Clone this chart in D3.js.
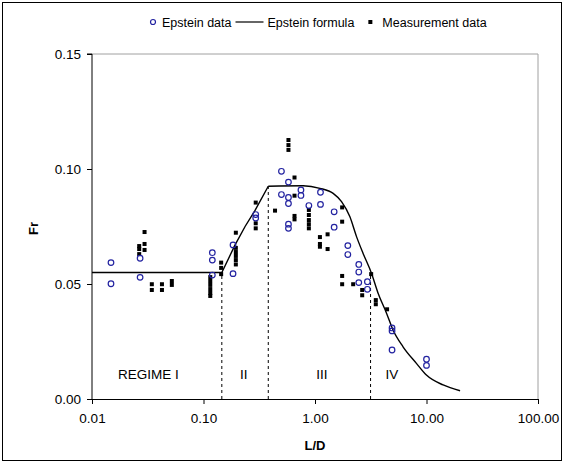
<!DOCTYPE html>
<html lang="en">
<head>
<meta charset="UTF-8">
<title>Fr vs L/D</title>
<script src="https://d3js.org/d3.v7.min.js"></script>
<style>
  body { margin: 0; background: #fff; }
  svg text { font-family: "Liberation Sans", Arial, sans-serif; fill: #000; }
</style>
</head>
<body>
<svg id="chart" width="565" height="464"></svg>
<script>
// Epstein data (open circles)
const epsteinLD = [0.0148, 0.0148, 0.027, 0.027, 0.120, 0.120, 0.120, 0.184, 0.184,
  0.294, 0.294, 0.50, 0.50, 0.578, 0.578, 0.578, 0.578, 0.578, 0.748, 0.748, 0.881,
  1.12, 1.12, 1.485, 1.485, 1.97, 1.97, 2.47, 2.47, 2.47, 2.95, 2.95,
  4.91, 4.91, 4.91, 10.0, 10.0];
const epsteinFr = [0.0593, 0.0501, 0.0612, 0.0529, 0.0636, 0.0604, 0.0539, 0.0670, 0.0545,
  0.0802, 0.0787, 0.0990, 0.0889, 0.0943, 0.0876, 0.0850, 0.0760, 0.0742, 0.0909, 0.0885, 0.0841,
  0.0899, 0.0846, 0.0814, 0.0747, 0.0667, 0.0628, 0.0585, 0.0552, 0.0506, 0.0510, 0.0477,
  0.0309, 0.0296, 0.0213, 0.0173, 0.0146];

// Measurement data (filled squares)
const measLD = [0.0265, 0.0265, 0.0265, 0.0296, 0.0296, 0.0296,
  0.0344, 0.0344, 0.0424, 0.0424, 0.052, 0.052,
  0.115, 0.115, 0.115, 0.115, 0.115, 0.115,
  0.144, 0.144, 0.144,
  0.195, 0.195, 0.195, 0.195, 0.195, 0.195,
  0.294, 0.294, 0.294, 0.438,
  0.578, 0.578, 0.578,
  0.655, 0.655, 0.655, 0.655,
  0.881, 0.881, 0.881, 0.881, 0.881,
  1.107, 1.107, 1.107, 1.297, 1.297,
  1.752, 1.752, 1.752, 1.752, 2.20,
  2.65, 2.65, 3.19, 3.51, 3.51, 4.43];
const measFr = [0.0665, 0.0652, 0.0630, 0.0726, 0.0674, 0.0648,
  0.0499, 0.0474, 0.0499, 0.0474, 0.0513, 0.0496,
  0.0530, 0.0513, 0.0496, 0.0478, 0.0461, 0.0448,
  0.0593, 0.0570, 0.0543,
  0.0723, 0.0657, 0.0639, 0.0622, 0.0604, 0.0585,
  0.0854, 0.0764, 0.0742, 0.0819,
  0.1126, 0.1104, 0.1083,
  0.0963, 0.0884, 0.0796, 0.0781,
  0.0822, 0.0800, 0.0778, 0.0760, 0.0742,
  0.0704, 0.0674, 0.0662, 0.0716, 0.0652,
  0.0833, 0.0771, 0.0535, 0.0499, 0.0499,
  0.0474, 0.0451, 0.0543, 0.0430, 0.0412, 0.0390];

// Epstein formula curve
const formulaLD = [0.01, 0.146, 0.192, 0.236, 0.290, 0.381, 0.783, 1.107, 1.455, 1.730,
  2.052, 2.357, 2.70, 3.21, 3.68, 4.38, 5.01, 6.16, 8.12, 9.98, 14.1, 20];
const formulaFr = [0.055, 0.055, 0.067, 0.075, 0.082, 0.0925, 0.0927, 0.0916, 0.0894, 0.0858,
  0.0793, 0.0706, 0.0633, 0.0547, 0.0460, 0.0373, 0.0300, 0.0227, 0.0155, 0.0104, 0.0061, 0.0036];

// regime boundaries (dashed lines) and labels
const boundaryLD = [0.146, 0.381, 3.15];
const boundaryFr = [0.055, 0.0925, 0.0545];
const regimeNames = ["REGIME I", "II", "III", "IV"];
const regimeLD = [0.032, 0.23, 1.15, 4.9];
const regimeFr = 0.011;

const xTicks = [0.01, 0.1, 1, 10, 100];
const xTickLabels = ["0.01", "0.10", "1.00", "10.00", "100.00"];
const yTicks = [0, 0.05, 0.10, 0.15];

const svg = d3.select("#chart");
const margin = {top: 54, right: 27, bottom: 65, left: 92};
const width = 565, height = 464;

svg.append("rect").attr("x", 2.5).attr("y", 2.5).attr("width", 559).attr("height", 458)
  .attr("fill", "#fff").attr("stroke", "#000").attr("stroke-width", 1);

const x = d3.scaleLog().domain([0.01, 100]).range([margin.left, width - margin.right]);
const y = d3.scaleLinear().domain([0, 0.15]).range([height - margin.bottom, margin.top]);

// plot frame top/right in grey
svg.append("path")
  .attr("d", `M${x(0.01)},${y(0.15)}H${x(100)}V${y(0)}`)
  .attr("fill", "none").attr("stroke", "#a0a0a0").attr("stroke-width", 1);

const fontSize = 13.5;

const xAxis = svg.append("g").attr("transform", `translate(0,${y(0)})`)
  .call(d3.axisBottom(x).tickValues(xTicks).tickFormat((d, i) => xTickLabels[i]).tickSize(5).tickPadding(9));
const yAxis = svg.append("g").attr("transform", `translate(${x(0.01)},0)`)
  .call(d3.axisLeft(y).tickValues(yTicks).tickFormat(d3.format(".2f")).tickSize(5).tickPadding(6));
[xAxis, yAxis].forEach(g => {
  g.selectAll("path, line").attr("stroke", "#000");
  g.selectAll("text").attr("font-size", fontSize).attr("font-family", "Liberation Sans, Arial, sans-serif").attr("fill", "#000");
});
yAxis.select(".domain").attr("d", `M-5,${y(0.15)}H0V${y(0)}`);

// axis titles
svg.append("text").attr("x", (x(0.01) + x(100)) / 2).attr("y", 450)
  .attr("text-anchor", "middle").attr("font-size", 13).attr("font-weight", "bold").text("L/D");
svg.append("text").attr("transform", `translate(38,${(y(0) + y(0.15)) / 2 + 2}) rotate(-90)`)
  .attr("text-anchor", "middle").attr("font-size", 13).attr("font-weight", "bold").text("Fr");

// dashed regime boundaries
svg.selectAll(".boundary").data(boundaryLD).enter().append("line")
  .attr("x1", d => x(d)).attr("x2", d => x(d))
  .attr("y1", y(0)).attr("y2", (d, i) => y(boundaryFr[i]))
  .attr("stroke", "#000").attr("stroke-width", 1).attr("stroke-dasharray", "3,3");

// formula curve
const curvePts = formulaLD.map((d, i) => [d, formulaFr[i]]);
const iPeak = formulaLD.indexOf(0.381);
const lin = d3.line().x(d => x(d[0])).y(d => y(d[1]));
const smooth = d3.line().x(d => x(d[0])).y(d => y(d[1])).curve(d3.curveMonotoneX);
svg.append("path").attr("d", lin(curvePts.slice(0, iPeak + 1)))
  .attr("fill", "none").attr("stroke", "#000").attr("stroke-width", 1.4);
svg.append("path").attr("d", smooth(curvePts.slice(iPeak)))
  .attr("fill", "none").attr("stroke", "#000").attr("stroke-width", 1.4);

// measurement squares
svg.selectAll(".meas").data(measLD).enter().append("rect")
  .attr("x", d => x(d) - 2).attr("y", (d, i) => y(measFr[i]) - 2)
  .attr("width", 4).attr("height", 4).attr("fill", "#000");

// Epstein circles
const blue = "#2222a0";
svg.selectAll(".eps").data(epsteinLD).enter().append("circle")
  .attr("cx", d => x(d)).attr("cy", (d, i) => y(epsteinFr[i])).attr("r", 2.8)
  .attr("fill", "none").attr("stroke", blue).attr("stroke-width", 1.2);

// regime labels
svg.selectAll(".regime").data(regimeNames).enter().append("text")
  .attr("x", (d, i) => x(regimeLD[i])).attr("y", y(regimeFr) + 5)
  .attr("text-anchor", "middle").attr("font-size", fontSize).text(d => d);

// legend
const legendSize = 12.5;
const lg = svg.append("g").attr("transform", "translate(0,22)");
let lx = 153;
lg.append("circle").attr("cx", lx).attr("cy", 0).attr("r", 2.5)
  .attr("fill", "none").attr("stroke", blue).attr("stroke-width", 1.2);
let t = lg.append("text").attr("x", lx + 9).attr("y", 4.5).attr("font-size", legendSize).text("Epstein data");
lx = lx + 9 + t.node().getComputedTextLength() + 4;
lg.append("line").attr("x1", lx).attr("x2", lx + 28).attr("y1", 0).attr("y2", 0)
  .attr("stroke", "#000").attr("stroke-width", 1.2);
t = lg.append("text").attr("x", lx + 32).attr("y", 4.5).attr("font-size", legendSize).text("Epstein formula");
lx = lx + 32 + t.node().getComputedTextLength() + 16;
lg.append("rect").attr("x", lx - 2).attr("y", -2).attr("width", 4).attr("height", 4).attr("fill", "#000");
lg.append("text").attr("x", lx + 12).attr("y", 4.5).attr("font-size", legendSize).text("Measurement data");
</script>
</body>
</html>
